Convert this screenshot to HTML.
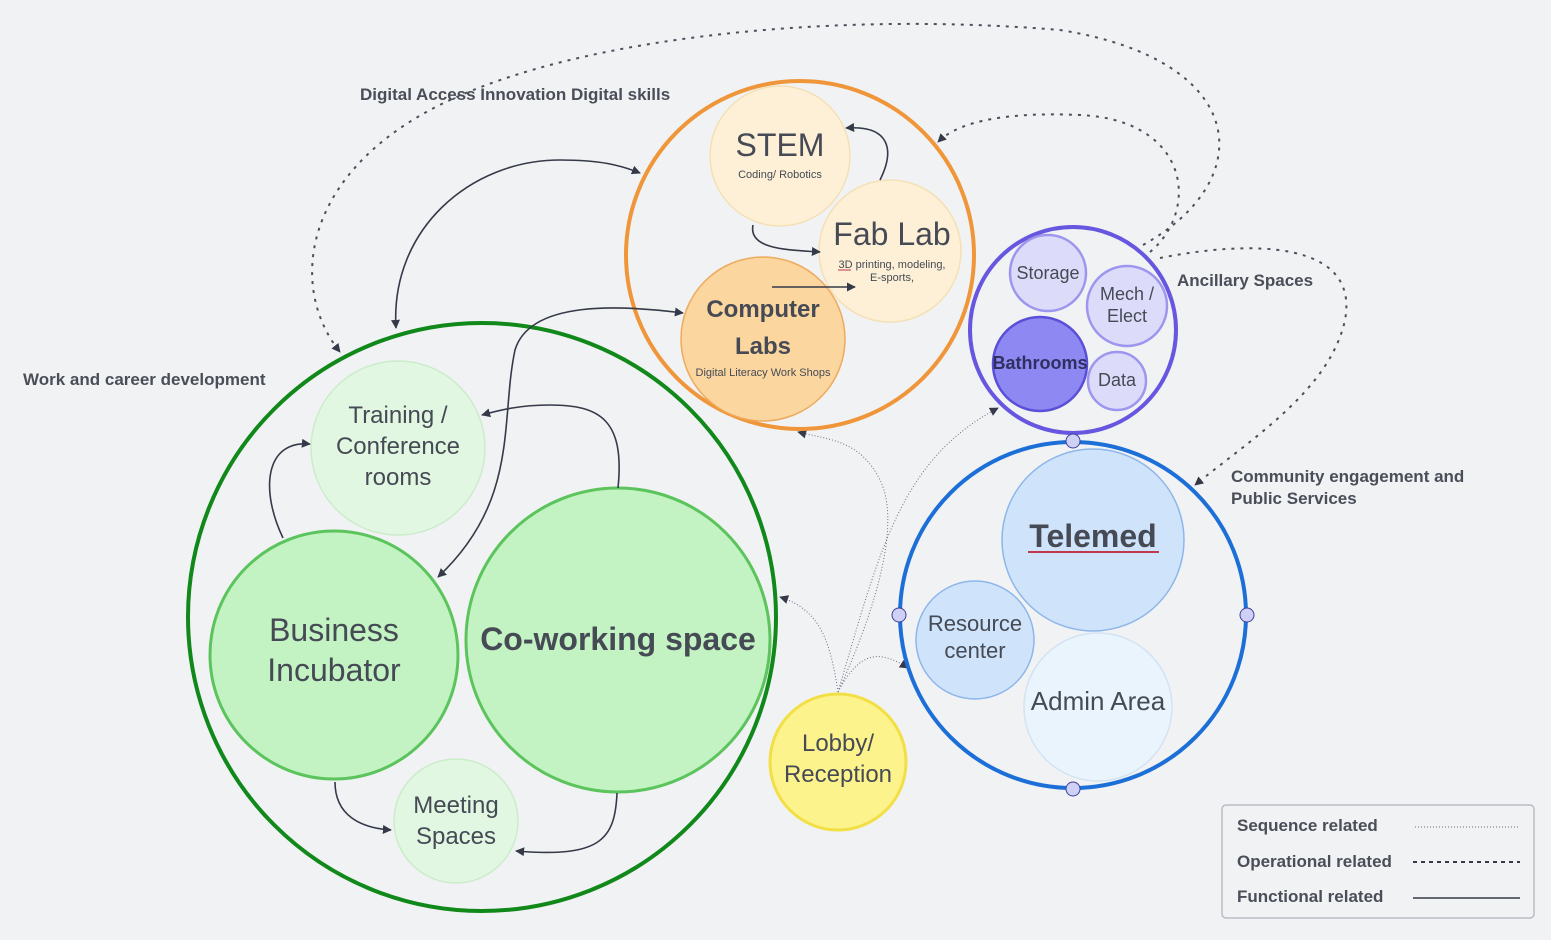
<!DOCTYPE html>
<html><head><meta charset="utf-8"><style>
html,body{margin:0;padding:0;background:#f1f2f4;}
svg{display:block;font-family:"Liberation Sans",sans-serif;}
</style></head><body>
<svg width="1551" height="940" viewBox="0 0 1551 940" xmlns="http://www.w3.org/2000/svg">
<defs>
<marker id="a" viewBox="0 0 10 10" refX="9" refY="5" markerWidth="9" markerHeight="9" orient="auto-start-reverse" markerUnits="userSpaceOnUse"><path d="M0,0 L10,5 L0,10 z" fill="#353a48"/></marker>
</defs>
<rect width="1551" height="940" fill="#f1f2f4"/>

<!-- dashed operational curves -->
<g fill="none" stroke="#4a4f5c" stroke-width="2" stroke-dasharray="3,6">
<path d="M1143,245 C1260,180 1250,60 1060,30 C820,10 560,40 430,110 C300,180 290,290 340,352" marker-end="url(#a)"/>
<path d="M1150,252 C1200,210 1190,120 1080,115 C1010,112 960,120 938,142" marker-end="url(#a)"/>
<path d="M1160,258 C1250,240 1360,240 1345,320 C1330,390 1250,440 1195,485" marker-end="url(#a)"/>
</g>
<!-- dotted sequence -->
<g fill="none" stroke="#6a6f7c" stroke-width="1" stroke-dasharray="1,2">
<path d="M838,692 C880,600 900,520 880,480 C860,440 830,440 798,432" marker-end="url(#a)"/>
<path d="M838,692 C880,550 900,460 998,408" marker-end="url(#a)"/>
<path d="M838,692 C830,640 820,610 780,597" marker-end="url(#a)"/>
<path d="M838,692 C860,650 880,650 908,668" marker-end="url(#a)"/>
</g>

<!-- Green group -->
<circle cx="482" cy="617" r="294" fill="none" stroke="#10881a" stroke-width="4"/>
<circle cx="398" cy="448" r="87" fill="#e2f7e2" stroke="#cbeccb" stroke-width="1.5"/>
<circle cx="334" cy="655" r="124" fill="#c3f2c3" stroke="#5cc45c" stroke-width="3"/>
<circle cx="618" cy="640" r="152" fill="#c3f2c3" stroke="#5cc45c" stroke-width="3"/>
<circle cx="456" cy="821" r="62" fill="#e2f7e2" stroke="#cbeccb" stroke-width="1.5"/>

<!-- Orange group -->
<circle cx="800" cy="255" r="174" fill="none" stroke="#f0963a" stroke-width="4"/>
<circle cx="780" cy="156" r="70" fill="#fdf0d6" stroke="#f5e0b5" stroke-width="1.5"/>
<circle cx="890" cy="251" r="71" fill="#fdf0d6" stroke="#f5e0b5" stroke-width="1.5"/>
<circle cx="763" cy="339" r="82" fill="#fcd69f" stroke="#eeaa5c" stroke-width="1.5"/>

<!-- Purple group -->
<circle cx="1073" cy="330" r="103" fill="none" stroke="#6656e0" stroke-width="4"/>
<circle cx="1048" cy="273" r="38" fill="#dcdcfa" stroke="#9d96ee" stroke-width="2.5"/>
<circle cx="1127" cy="306" r="40" fill="#dcdcfa" stroke="#9d96ee" stroke-width="2.5"/>
<circle cx="1040" cy="364" r="47" fill="#8e88f3" stroke="#5a4fd8" stroke-width="2.5"/>
<circle cx="1117" cy="381" r="29" fill="#dcdcfa" stroke="#9d96ee" stroke-width="2.5"/>

<!-- Blue group -->
<circle cx="1073" cy="615" r="173" fill="none" stroke="#1d6fd8" stroke-width="4"/>
<circle cx="1093" cy="540" r="91" fill="#cfe3fb" stroke="#8db6ea" stroke-width="1.5"/>
<circle cx="975" cy="640" r="59" fill="#cfe3fb" stroke="#8db6ea" stroke-width="1.5"/>
<circle cx="1098" cy="707" r="74" fill="#eaf4fd" stroke="#d2e3f3" stroke-width="1.5"/>
<g fill="#cfd0f6" stroke="#3d3f9a" stroke-width="1">
<circle cx="1073" cy="441" r="7"/><circle cx="899" cy="615" r="7"/><circle cx="1247" cy="615" r="7"/><circle cx="1073" cy="789" r="7"/>
</g>

<!-- Lobby -->
<circle cx="838" cy="762" r="68" fill="#fdf38d" stroke="#f2df45" stroke-width="3"/>

<!-- Functional solid connectors -->
<g fill="none" stroke="#353a48" stroke-width="1.6">
<path d="M396,328 C390,230 470,160 560,160 C600,160 620,165 640,173" marker-start="url(#a)" marker-end="url(#a)"/>
<path d="M438,577 C520,500 500,420 515,350 C530,300 620,305 683,313" marker-start="url(#a)" marker-end="url(#a)"/>
<path d="M618,488 C625,420 600,405 550,405 C520,405 500,410 482,415" marker-end="url(#a)"/>
<path d="M283,538 C260,490 265,440 310,444" marker-end="url(#a)"/>
<path d="M335,782 C335,815 360,828 391,830" marker-end="url(#a)"/>
<path d="M617,793 C615,840 600,858 516,851" marker-end="url(#a)"/>
<path d="M753,225 C748,250 790,250 820,252" marker-end="url(#a)"/>
<path d="M880,180 C895,150 890,125 846,128" marker-end="url(#a)"/>
<path d="M772,287 L855,287" marker-end="url(#a)"/>
</g>

<!-- Labels -->
<g fill="#4a4e58" font-weight="bold" font-size="17">
<text x="360" y="100">Digital Access Innovation Digital skills</text>
<text x="23" y="385">Work and career development</text>
<text x="1177" y="286">Ancillary Spaces</text>
<text x="1231" y="482">Community engagement and</text>
<text x="1231" y="504">Public Services</text>
</g>
<g fill="#454a55" text-anchor="middle">
<text x="398" y="423" font-size="24">Training /</text>
<text x="398" y="454" font-size="24">Conference</text>
<text x="398" y="485" font-size="24">rooms</text>
<text x="334" y="641" font-size="32">Business</text>
<text x="334" y="681" font-size="32">Incubator</text>
<text x="618" y="650" font-size="32" font-weight="bold">Co-working space</text>
<text x="456" y="813" font-size="24">Meeting</text>
<text x="456" y="844" font-size="24">Spaces</text>
<text x="780" y="156" font-size="32">STEM</text>
<text x="780" y="178" font-size="11">Coding/ Robotics</text>
<text x="892" y="245" font-size="32">Fab Lab</text>
<text x="892" y="268" font-size="11">3D printing, modeling,</text>
<text x="892" y="281" font-size="11">E-sports,</text>
<text x="763" y="317" font-size="24" font-weight="bold">Computer</text>
<text x="763" y="354" font-size="24" font-weight="bold">Labs</text>
<text x="763" y="376" font-size="11">Digital Literacy  Work Shops</text>
<text x="1048" y="279" font-size="18">Storage</text>
<text x="1127" y="300" font-size="18">Mech /</text>
<text x="1127" y="322" font-size="18">Elect</text>
<text x="1040" y="369" font-size="18" font-weight="bold" fill="#2f2f60">Bathrooms</text>
<text x="1117" y="386" font-size="18">Data</text>
<text x="1093" y="547" font-size="32" font-weight="bold">Telemed</text>
<text x="975" y="631" font-size="22">Resource</text>
<text x="975" y="658" font-size="22">center</text>
<text x="1098" y="710" font-size="26">Admin Area</text>
<text x="838" y="751" font-size="24">Lobby/</text>
<text x="838" y="782" font-size="24">Reception</text>
</g>
<line x1="1028" y1="552" x2="1159" y2="552" stroke="#c0394a" stroke-width="2"/>
<line x1="838" y1="270" x2="851" y2="270" stroke="#c0394a" stroke-width="1"/>

<!-- Legend -->
<rect x="1222" y="805" width="312" height="113" rx="4" fill="#f1f2f4" stroke="#b9bcc4" stroke-width="1.5"/>
<g fill="#4a4e58" font-weight="bold" font-size="17">
<text x="1237" y="831">Sequence related</text>
<text x="1237" y="867">Operational related</text>
<text x="1237" y="902">Functional related</text>
</g>
<line x1="1415" y1="827" x2="1520" y2="827" stroke="#6a6f7c" stroke-width="1" stroke-dasharray="1,2"/>
<line x1="1413" y1="862" x2="1520" y2="862" stroke="#353a48" stroke-width="2" stroke-dasharray="4,4"/>
<line x1="1413" y1="898" x2="1520" y2="898" stroke="#353a48" stroke-width="1.6"/>
</svg>
</body></html>
